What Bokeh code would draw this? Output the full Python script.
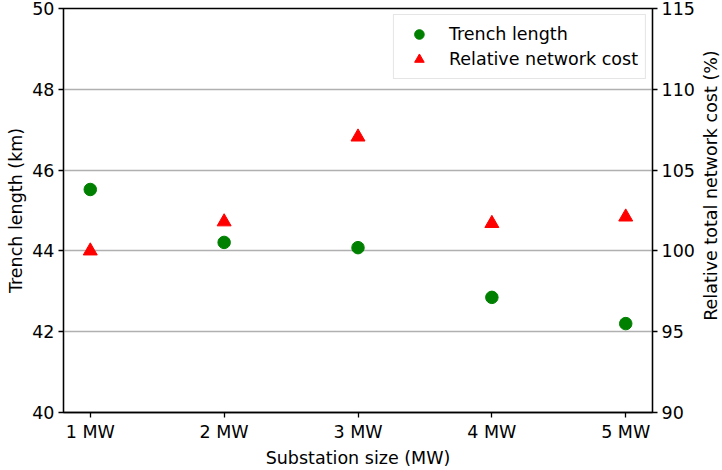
import math
from bokeh.plotting import figure
from bokeh.layouts import row
from bokeh.models import Range1d, LinearAxis, FixedTicker, Legend, LegendItem
from bokeh.core.properties import value
from bokeh.embed import file_html
from bokeh.resources import INLINE

sizes = [1, 2, 3, 4, 5]
size_labels = ["1 MW", "2 MW", "3 MW", "4 MW", "5 MW"]
trench_km = [45.52, 44.21, 44.08, 42.85, 42.20]
cost_pct = [100.0, 101.8, 107.05, 101.7, 102.1]
right_title = "Relative total network cost (%)"

FONT = "DejaVu Sans"
FS = "17.5px"
SIDE_W = 25

p = figure(width=722 - SIDE_W, height=470, output_backend="svg", toolbar_location=None,
           x_range=Range1d(0.8, 5.2), y_range=Range1d(40, 50),
           min_border_left=63, min_border_right=45, min_border_top=8, min_border_bottom=58)
p.extra_y_ranges = {"cost": Range1d(90, 115)}

p.outline_line_color = "black"
p.outline_line_width = 1.3
p.background_fill_color = "white"
p.border_fill_color = "white"

p.xgrid.visible = False
p.ygrid.grid_line_color = "#b0b0b0"
p.ygrid.grid_line_width = 1.5
p.ygrid.ticker = FixedTicker(ticks=[40, 42, 44, 46, 48, 50])

p.xaxis.ticker = FixedTicker(ticks=sizes)
p.xaxis.major_label_overrides = {s: l for s, l in zip(sizes, size_labels)}
p.xaxis.axis_label = "Substation size (MW)"
p.yaxis.ticker = FixedTicker(ticks=[40, 42, 44, 46, 48, 50])
p.yaxis.axis_label = "Trench length (km)"

raxis = LinearAxis(y_range_name="cost",
                   ticker=FixedTicker(ticks=[90, 95, 100, 105, 110, 115]))
p.add_layout(raxis, "right")

for ax in [p.xaxis[0], p.yaxis[0], raxis]:
    ax.major_label_text_font = FONT
    ax.major_label_text_font_size = FS
    ax.major_label_text_color = "black"
    ax.axis_label_text_font = FONT
    ax.axis_label_text_font_size = FS
    ax.axis_label_text_font_style = "normal"
    ax.axis_label_text_color = "black"
    ax.axis_line_color = "black"
    ax.axis_line_width = 1.3
    ax.major_tick_line_color = "black"
    ax.major_tick_line_width = 1.3
    ax.major_tick_out = 5
    ax.major_tick_in = 0
    ax.minor_tick_line_color = None
    ax.major_label_standoff = 4
    ax.axis_label_standoff = 3

c = p.scatter(sizes, trench_km, marker="circle", size=12.5, fill_color="green", line_color="green")
t = p.scatter(sizes, cost_pct, marker="triangle", size=14, fill_color="red", line_color="red",
              y_range_name="cost")

legend = Legend(items=[LegendItem(label="Trench length", renderers=[c]),
                       LegendItem(label="Relative network cost", renderers=[t])],
                location="top_right", label_text_font=FONT, label_text_font_size=FS,
                label_text_color="black",
                border_line_color="#cccccc", border_line_width=1.3, background_fill_alpha=0.9,
                margin=6, padding=7, spacing=1, glyph_width=36, glyph_height=24, label_standoff=12)
p.add_layout(legend, "center")

# narrow side panel carrying the right axis title, reading bottom-to-top
side = figure(width=SIDE_W, height=470, output_backend="svg", toolbar_location=None,
              x_range=Range1d(0, SIDE_W), y_range=Range1d(0, 470),
              min_border_left=0, min_border_right=0, min_border_top=0, min_border_bottom=0)
side.axis.visible = False
side.grid.visible = False
side.outline_line_color = None
side.background_fill_color = "white"
side.border_fill_color = "white"
side.text(x=[13], y=[264], text=[right_title], angle=math.pi / 2,
          text_align="center", text_baseline="middle",
          text_font=value(FONT), text_font_size=FS, text_color="black")

layout = row(p, side, spacing=0)
open("out.html", "w").write(file_html(layout, INLINE))
